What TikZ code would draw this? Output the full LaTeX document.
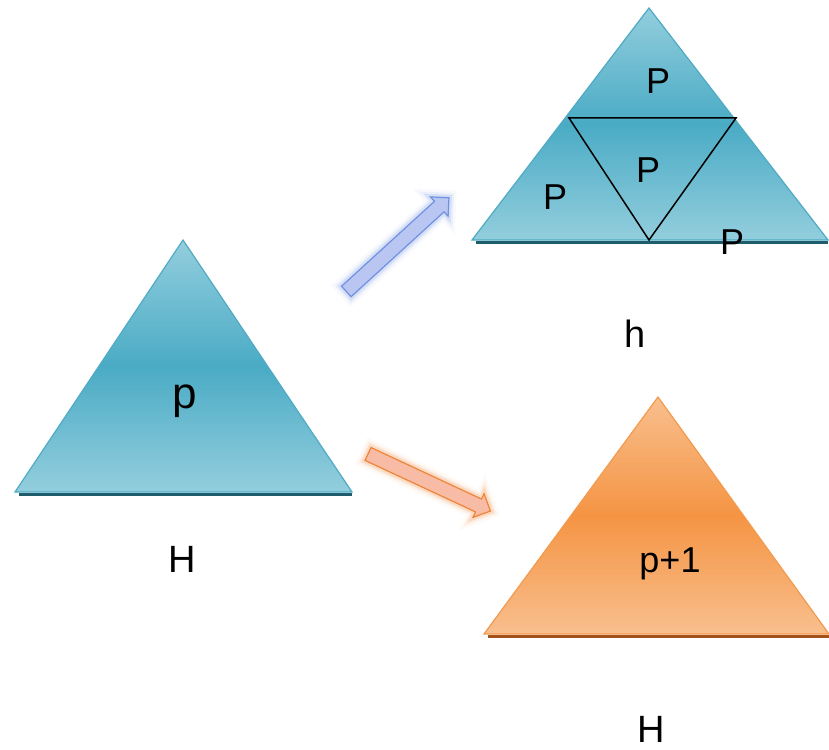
\documentclass[tikz,border=0pt]{standalone}
\usepackage{fontspec}
\setmainfont{Liberation Sans}
\usetikzlibrary{
  arrows.meta,
  shapes.arrows,
  positioning
}
\definecolor{trLight}{HTML}{93CEDD}
\definecolor{trDark}{HTML}{4AABC5}
\definecolor{trEdge}{HTML}{4FAAC4}
\definecolor{trShade}{HTML}{1F5D6C}
\definecolor{orLight}{HTML}{F8BF8E}
\definecolor{orDark}{HTML}{F59443}
\definecolor{orEdge}{HTML}{F29A4E}
\definecolor{orShade}{HTML}{A4521B}
\definecolor{arBlueFill}{HTML}{B9C6F2}
\definecolor{arBlueEdge}{HTML}{7090E2}
\definecolor{arOrFill}{HTML}{F8BCA6}
\definecolor{arOrEdge}{HTML}{F08436}
\tikzset{
  tealtri/.style={draw=trEdge, line width=1.2pt, shading=axis,
    top color=trLight, bottom color=trLight, middle color=trDark},
  orangetri/.style={draw=orEdge, line width=1.2pt, shading=axis,
    top color=orLight, bottom color=orLight, middle color=orDark},
  baseshade/.style={line width=3pt},
  lbl/.style={font=\fontsize{38}{42}\selectfont, inner sep=0pt},
  sublbl/.style={lbl, font=\fontsize{36}{40}\selectfont},
  cut/.style={draw=black, line width=1.5pt},
  blockarrow/.style={single arrow, minimum height=#1, inner sep=6.5pt,
    single arrow head extend=6pt, single arrow head indent=0pt, line width=1.2pt},
  blueglow/.style={blockarrow=139pt, draw=arBlueEdge, fill=arBlueFill,
    preaction={draw=arBlueEdge!15, line width=15pt, opacity=0.3},
    preaction={draw=arBlueEdge!25, line width=10pt, opacity=0.4},
    preaction={draw=arBlueEdge!40, line width=6pt, opacity=0.6}},
  orangeglow/.style={blockarrow=135pt, draw=arOrEdge, fill=arOrFill,
    preaction={draw=arOrEdge!15, line width=15pt, opacity=0.3},
    preaction={draw=arOrEdge!25, line width=10pt, opacity=0.4},
    preaction={draw=arOrEdge!40, line width=6pt, opacity=0.6}}
}

\begin{document}
\begin{tikzpicture}[x=1pt, y=-1pt]
  \useasboundingbox (0,0) rectangle (829,749);
  % left triangle
  \draw[baseshade, trShade] (19,494) -- (352,494);
  \path[tealtri] (183,240) -- (352,492) -- (15,492) -- cycle;
  \node[lbl, font=\fontsize{44}{48}\selectfont] (pL) at (185,401) {p};
  \node[lbl] (HL) at (182,559) {H};
  % upper right triangle, split in four
  \draw[baseshade, trShade] (476,242) -- (828,242);
  \path[tealtri] (649,8) -- (828,240) -- (472,240) -- cycle;
  \draw[cut] (569,118) -- (736,118) -- (649,240) -- cycle;
  \node[sublbl] (P1) at (658,81) {P};
  \node[sublbl] (P2) at (648,170) {P};
  \node[sublbl] (P3) at (555,197) {P};
  \node[sublbl] (P4) at (732,242) {P};
  \node[lbl] (h) at (635,334) {h};
  % lower right triangle
  \draw[baseshade, orShade] (488,636) -- (829,636);
  \path[orangetri] (658,397) -- (829,634) -- (484,634) -- cycle;
  \node[sublbl] (pR) at (670,564) {p+1};
  \node[lbl] (HR) at (651,729) {H};
  % block arrows
  \node[blueglow, rotate=42.4] (up) at (395,247) {};
  \node[orangeglow, rotate=-25] (down) at (426,481) {};
\end{tikzpicture}
\end{document}
